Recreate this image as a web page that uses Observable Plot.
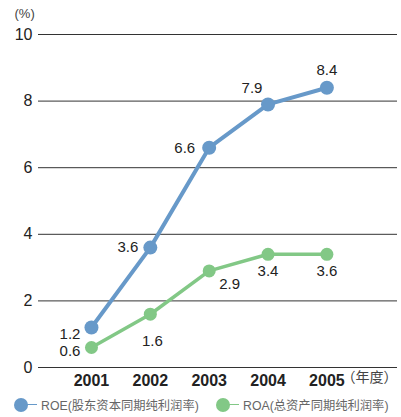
<!DOCTYPE html>
<html><head><meta charset="utf-8">
<script src="https://cdn.jsdelivr.net/npm/d3@7"></script>
<script src="https://cdn.jsdelivr.net/npm/@observablehq/plot@0.6"></script>
<style>
body{margin:0;background:#fff;font-family:"Liberation Sans",Arial,"Noto Sans CJK SC",sans-serif;}
#chart svg{display:block;}
.legend{position:relative;height:25px;width:401px;font-family:"Liberation Sans","Noto Sans CJK SC",sans-serif;font-size:12.3px;color:#666;}
.item{position:absolute;top:0;height:25px;display:flex;align-items:center;white-space:nowrap;}
.sw{position:relative;width:22px;height:14px;margin-right:5px;}
.sw .ln{position:absolute;left:7px;top:6.5px;width:16px;height:1px;}
.sw .dt{position:absolute;left:0;top:0;width:14px;height:14px;border-radius:50%;}
</style>
</head><body>
<div id="chart"></div>
<script>
const years = [2001, 2002, 2003, 2004, 2005];
const roe = [1.2, 3.6, 6.6, 7.9, 8.4];
const roa = [0.6, 1.6, 2.9, 3.4, 3.4];
const roeLabels = ["1.2", "3.6", "6.6", "7.9", "8.4"];
const roaLabels = ["0.6", "1.6", "2.9", "3.4", "3.6"];
const yTicks = [0, 2, 4, 6, 8, 10];
const seriesNames = ["ROE(股东资本同期纯利润率)", "ROA(总资产同期纯利润率)"];
const unitLabel = "(%)";
const xUnitLabel = "（年度）";

const blue = "#6799c9";
const green = "#82c886";

// label placements (style only)
const roePlace = [
  {dx: -11, dy: 7, a: "end"},
  {dx: -12, dy: 0, a: "end"},
  {dx: -14, dy: 0, a: "end"},
  {dx: -16, dy: -16, a: "middle"},
  {dx: 0, dy: -18, a: "middle"}
];
const roaPlace = [
  {dx: -11, dy: 4, a: "end"},
  {dx: 2, dy: 27, a: "middle"},
  {dx: 10, dy: 13, a: "start"},
  {dx: 0, dy: 17, a: "middle"},
  {dx: 0, dy: 17, a: "middle"}
];

const roeData = years.map((y, i) => ({year: y, value: roe[i], label: roeLabels[i]}));
const roaData = years.map((y, i) => ({year: y, value: roa[i], label: roaLabels[i]}));

const labelMarks = [];
roeData.forEach((d, i) => labelMarks.push(Plot.text([d], {x: "year", y: "value", text: "label", dx: roePlace[i].dx, dy: roePlace[i].dy, textAnchor: roePlace[i].a, fontSize: 15, fill: "#222"})));
roaData.forEach((d, i) => labelMarks.push(Plot.text([d], {x: "year", y: "value", text: "label", dx: roaPlace[i].dx, dy: roaPlace[i].dy, textAnchor: roaPlace[i].a, fontSize: 15, fill: "#222"})));

const chart = Plot.plot({
  width: 401,
  height: 392,
  marginTop: 34,
  marginBottom: 25,
  marginLeft: 38,
  marginRight: 4,
  style: {fontFamily: "'Liberation Sans', Arial, sans-serif", background: "#fff", overflow: "visible"},
  x: {type: "linear", domain: [2000.1, 2006.2]},
  y: {domain: [0, 10]},
  marks: [
    Plot.ruleY(yTicks, {stroke: "#333", strokeWidth: 1}),
    Plot.axisY(yTicks, {tickSize: 0, tickPadding: 6, fontSize: 16, fill: "#222", label: null}),
    Plot.axisX(years, {tickSize: 0, tickPadding: 7, fontSize: 16, fontWeight: "bold", fill: "#222", label: null, tickFormat: d => String(d)}),
    Plot.text([unitLabel], {frameAnchor: "top-left", dx: -24, dy: -17, text: d => d, fontSize: 13, fill: "#444", textAnchor: "start", lineAnchor: "bottom"}),
    Plot.text([xUnitLabel], {frameAnchor: "bottom-right", dx: 0, dy: 14, text: d => d, fontSize: 14, fill: "#444", textAnchor: "end", fontFamily: "'Noto Sans CJK SC', sans-serif"}),
    Plot.line(roaData, {x: "year", y: "value", stroke: green, strokeWidth: 3.5}),
    Plot.dot(roaData, {x: "year", y: "value", r: 6.5, fill: green}),
    Plot.line(roeData, {x: "year", y: "value", stroke: blue, strokeWidth: 4}),
    Plot.dot(roeData, {x: "year", y: "value", r: 7, fill: blue}),
    ...labelMarks
  ]
});
document.getElementById("chart").appendChild(chart);

const legend = document.createElement("div");
legend.className = "legend";
const lefts = [14, 216];
const cols = [blue, green];
seriesNames.forEach((name, i) => {
  const it = document.createElement("div");
  it.className = "item";
  it.style.left = lefts[i] + "px";
  it.innerHTML = `<div class="sw"><div class="ln" style="background:${cols[i]}"></div><div class="dt" style="background:${cols[i]}"></div></div><span>${name}</span>`;
  legend.appendChild(it);
});
document.body.appendChild(legend);
</script>
</body></html>
